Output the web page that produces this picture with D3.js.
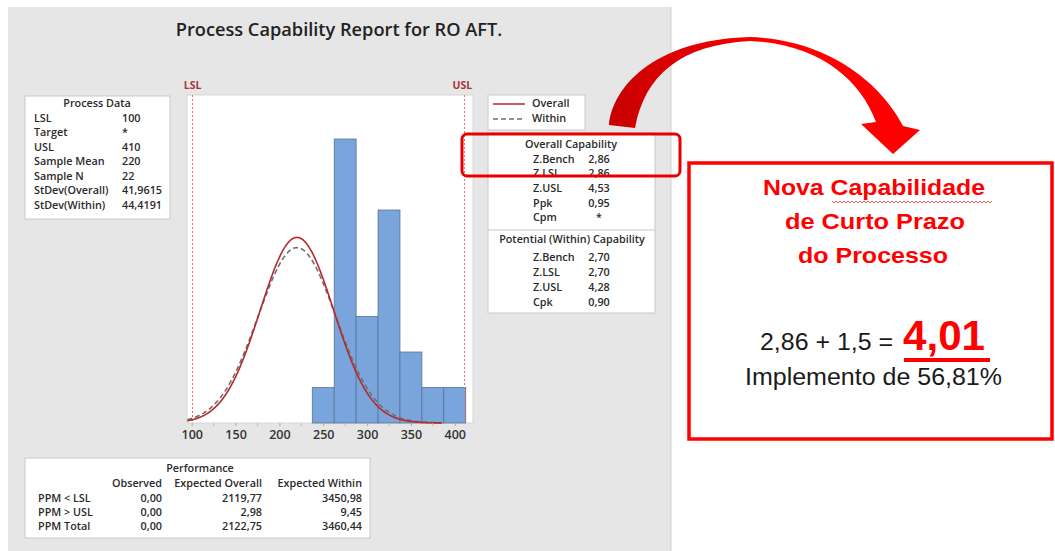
<!DOCTYPE html>
<html>
<head>
<meta charset="utf-8">
<script src="https://cdn.jsdelivr.net/npm/d3@7"></script>
<style>
  body { margin: 0; background: #fff; }
  svg text { font-family: "Open Sans", "Noto Sans", sans-serif; }
</style>
</head>
<body>
<svg id="chart" width="1055" height="551"></svg>
<script>
// histogram data (bin midpoints, counts)
const binMids = [250, 275, 300, 325, 350, 375, 400];
const binCounts = [1, 8, 3, 6, 2, 1, 1];
const binWidth = 25;

// process data
const LSL = 100, USL = 410, sampleMean = 220, sampleN = 22;
const sdOverall = 41.9615, sdWithin = 44.4191;
const xTicks = [100, 150, 200, 250, 300, 350, 400];

const procLabels = ["LSL", "Target", "USL", "Sample Mean", "Sample N", "StDev(Overall)", "StDev(Within)"];
const procValues = ["100", "*", "410", "220", "22", "41,9615", "44,4191"];

const overallLabels = ["Z.Bench", "Z.LSL", "Z.USL", "Ppk", "Cpm"];
const overallValues = ["2,86", "2,86", "4,53", "0,95", "*"];
const withinLabels = ["Z.Bench", "Z.LSL", "Z.USL", "Cpk"];
const withinValues = ["2,70", "2,70", "4,28", "0,90"];

const perfRows = ["PPM < LSL", "PPM > USL", "PPM Total"];
const perfObserved = ["0,00", "0,00", "0,00"];
const perfExpOverall = ["2119,77", "2,98", "2122,75"];
const perfExpWithin = ["3450,98", "9,45", "3460,44"];

const svg = d3.select("#chart");
const ink = "#2a2a2a";

// gray report panel
svg.append("rect").attr("x", 8).attr("y", 7).attr("width", 663).attr("height", 550)
  .attr("fill", "#e6e6e6");
svg.append("line").attr("x1", 671).attr("x2", 671).attr("y1", 7).attr("y2", 551)
  .attr("stroke", "#d2d2d2");

svg.append("text").attr("x", 339).attr("y", 36).attr("text-anchor", "middle")
  .attr("font-size", 18.2).attr("font-weight", 600).attr("fill", "#222")
  .text("Process Capability Report for RO AFT.");

// ---- histogram ----
const x = d3.scaleLinear().domain([94.6, 420.8]).range([187, 473]);
const y = d3.scaleLinear().domain([0, 9.24]).range([423, 95]);

svg.append("rect").attr("x", 187).attr("y", 95).attr("width", 286).attr("height", 328)
  .attr("fill", "#fff").attr("stroke", "#d6d6d6");

svg.append("g").selectAll("rect").data(binMids).join("rect")
  .attr("x", d => x(d - binWidth / 2))
  .attr("width", d => x(d + binWidth / 2) - x(d - binWidth / 2))
  .attr("y", (d, i) => y(binCounts[i]))
  .attr("height", (d, i) => y(0) - y(binCounts[i]))
  .attr("fill", "#79a5dc").attr("stroke", "#5b7296").attr("stroke-width", 0.8);

// spec limits
[[LSL, "LSL"], [USL, "USL"]].forEach(([v, name]) => {
  const px = Math.round(x(v)) + 0.5;
  svg.append("line").attr("x1", px).attr("x2", px).attr("y1", 95).attr("y2", 423)
    .attr("stroke", "#f26b6b").attr("stroke-width", 1).attr("stroke-dasharray", "2,2");
  svg.append("text").attr("x", name == "LSL" ? x(v) - 8 : x(v) - 11).attr("y", 89)
    .attr("font-size", 10.5).attr("font-weight", 700).attr("fill", "#a83838").text(name);
});

// fitted normal curves
function normalCurve(sd) {
  const pts = d3.range(95, 386, 1).map(v => {
    const dens = Math.exp(-0.5 * ((v - sampleMean) / sd) ** 2) / (sd * Math.sqrt(2 * Math.PI));
    return [v, dens * sampleN * binWidth];
  });
  return d3.line().x(d => x(d[0])).y(d => y(d[1]))(pts);
}
svg.append("path").attr("d", normalCurve(sdWithin)).attr("fill", "none")
  .attr("stroke", "#707070").attr("stroke-width", 1.6).attr("stroke-dasharray", "5,3");
svg.append("path").attr("d", normalCurve(sdOverall)).attr("fill", "none")
  .attr("stroke", "#b52a2a").attr("stroke-width", 1.6);

// x axis
const xAxis = d3.axisBottom(x).tickValues(xTicks).tickSize(3).tickPadding(4);
const ax = svg.append("g").attr("transform", "translate(0,423)").call(xAxis);
ax.select(".domain").remove();
ax.selectAll(".tick line").attr("stroke", "#aaa");
ax.selectAll("text").attr("font-size", 12.5).attr("font-weight", 600).attr("fill", "#333")
  .style("font-family", "'Open Sans', sans-serif");
svg.append("g").selectAll("line").data(xTicks.slice(0, -1).map(v => v + 25)).join("line")
  .attr("x1", d => x(d)).attr("x2", d => x(d)).attr("y1", 423).attr("y2", 426)
  .attr("stroke", "#bbb");

// ---- boxes ----
function box(x0, y0, w, h) {
  svg.append("rect").attr("x", x0).attr("y", y0).attr("width", w).attr("height", h)
    .attr("fill", "#fff").attr("stroke", "#c9c9c9");
}
function txt(tx, ty, s, anchor, weight) {
  svg.append("text").attr("x", tx).attr("y", ty).attr("text-anchor", anchor || "start")
    .attr("font-size", 10.8).attr("font-weight", weight || 600).attr("fill", ink).text(s);
}

// process data
box(25, 96, 145, 123);
txt(97, 107, "Process Data", "middle");
procLabels.forEach((l, i) => {
  txt(34, 121.5 + i * 14.5, l);
  txt(122, 121.5 + i * 14.5, procValues[i]);
});

// legend
box(488, 95, 97, 35);
svg.append("line").attr("x1", 493).attr("x2", 525).attr("y1", 104).attr("y2", 104)
  .attr("stroke", "#b52a2a").attr("stroke-width", 1.5);
svg.append("line").attr("x1", 493).attr("x2", 525).attr("y1", 119).attr("y2", 119)
  .attr("stroke", "#707070").attr("stroke-width", 1.6).attr("stroke-dasharray", "5,3");
txt(532, 107, "Overall");
txt(532, 122, "Within");

// capability
box(488, 133, 167, 180);
svg.append("line").attr("x1", 488).attr("x2", 655).attr("y1", 230).attr("y2", 230).attr("stroke", "#c9c9c9");
txt(571, 147.5, "Overall Capability", "middle");
overallLabels.forEach((l, i) => {
  txt(533, 162.5 + i * 14.7, l);
  txt(599, 162.5 + i * 14.7, overallValues[i], "middle");
});
txt(572, 242.5, "Potential (Within) Capability", "middle");
withinLabels.forEach((l, i) => {
  txt(533, 260.5 + i * 15, l);
  txt(599, 260.5 + i * 15, withinValues[i], "middle");
});

// performance
box(25, 458, 345, 80);
txt(200, 471.5, "Performance", "middle");
txt(162, 486.5, "Observed", "end");
txt(262, 486.5, "Expected Overall", "end");
txt(362, 486.5, "Expected Within", "end");
perfRows.forEach((r, i) => {
  const ty = 501.5 + i * 14.2;
  txt(38, ty, r);
  txt(162, ty, perfObserved[i], "end");
  txt(262, ty, perfExpOverall[i], "end");
  txt(362, ty, perfExpWithin[i], "end");
});

// highlight around Z.Bench
svg.append("rect").attr("x", 462).attr("y", 134).attr("width", 218).attr("height", 42)
  .attr("rx", 5).attr("fill", "none").attr("stroke", "#e60000").attr("stroke-width", 3);

// ---- curved arrow ----
const grad = svg.append("defs").append("linearGradient").attr("id", "arrowGrad")
  .attr("gradientUnits", "userSpaceOnUse").attr("x1", 610).attr("x2", 780).attr("y1", 0).attr("y2", 0);
grad.append("stop").attr("offset", 0).attr("stop-color", "#c80000");
grad.append("stop").attr("offset", 1).attr("stop-color", "#ff0000");
svg.append("path")
  .attr("d", "M609,125 C612,90 650,40 750,37 C835,40 885,90 903,126 L920,130 L893,154 L861,124 L876,122 C860,80 820,44 750,41 C680,45 645,75 635,128 Z")
  .attr("fill", "url(#arrowGrad)");

// ---- annotation box ----
svg.append("rect").attr("x", 689).attr("y", 163).attr("width", 363).attr("height", 276)
  .attr("fill", "#fff").attr("stroke", "#ff0000").attr("stroke-width", 3.5);

const annFont = "'Liberation Sans', Arial, sans-serif";
function annText(tx, ty, s, opts) {
  const t = svg.append("text").attr("x", tx).attr("y", ty)
    .style("font-family", annFont).attr("font-size", opts.size)
    .attr("font-weight", opts.bold ? 700 : 400).attr("fill", opts.color)
    .attr("textLength", opts.len).attr("lengthAdjust", "spacingAndGlyphs")
    .text(s);
  return t;
}
annText(763, 195, "Nova Capabilidade", { size: 22.5, bold: true, color: "#ff0000", len: 222 });
annText(785, 229, "de Curto Prazo", { size: 22.5, bold: true, color: "#ff0000", len: 180 });
annText(798, 263, "do Processo", { size: 22.5, bold: true, color: "#ff0000", len: 150 });

// spell-check squiggle under "Capabilidade"
const sq = d3.range(832, 993, 2).map((v, i) => [v, 202 + (i % 2 ? 1 : -1)]);
svg.append("path").attr("d", d3.line()(sq)).attr("fill", "none").attr("stroke", "#e03030").attr("stroke-width", 0.8);

annText(760, 350, "2,86 + 1,5 =", { size: 23, color: "#1a1a1a", len: 133 });
annText(903, 350, "4,01", { size: 42, bold: true, color: "#ff0000", len: 82 });
svg.append("line").attr("x1", 904).attr("x2", 990).attr("y1", 360).attr("y2", 360)
  .attr("stroke", "#ff0000").attr("stroke-width", 4);
annText(745, 385, "Implemento de 56,81%", { size: 23, color: "#1a1a1a", len: 257 });
</script>
</body>
</html>
